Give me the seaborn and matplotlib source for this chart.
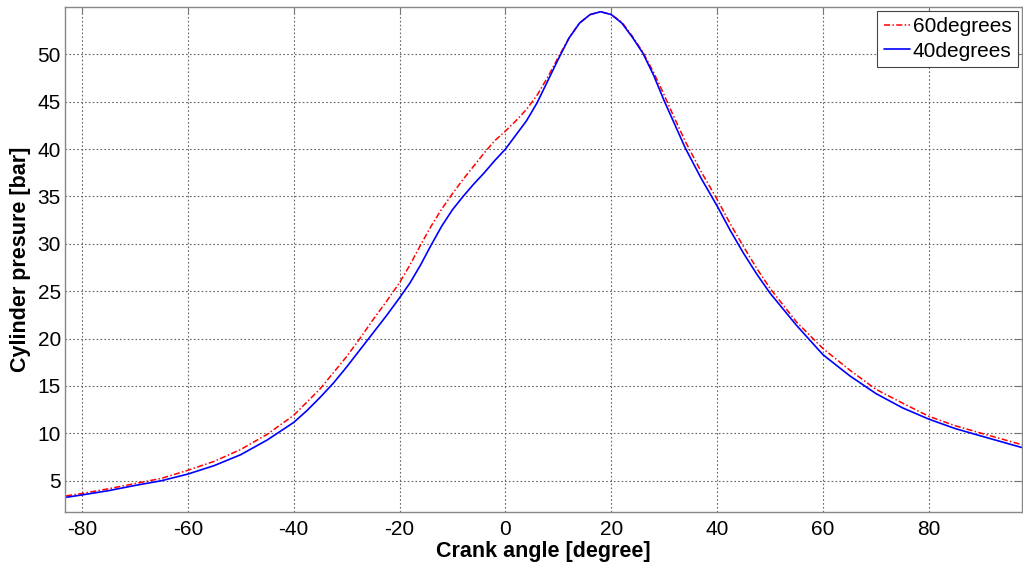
import numpy as np
import pandas as pd
import matplotlib
matplotlib.use("Agg")
import matplotlib.pyplot as plt
import seaborn as sns

crank_angle = [-83, -80, -75, -70, -65, -60, -55, -50, -45, -40, -37.5, -35, -32.5, -30,
               -27.5, -25, -22.5, -20, -18, -16, -14, -12, -10, -8, -6, -4, -2, 0,
               2, 4, 6, 8, 10, 12, 14, 16, 18, 20, 22, 24, 26, 28, 30, 32, 34, 37,
               40, 42.5, 45, 47.5, 50, 55, 60, 65, 70, 75, 80, 85, 90, 97.6]

p_60deg = [3.4, 3.65, 4.15, 4.7, 5.25, 6.1, 7.05, 8.3, 9.9, 11.9, 13.3, 14.7, 16.4, 18.1,
           20.0, 22.0, 23.9, 25.9, 27.8, 29.9, 31.9, 33.7, 35.3, 36.8, 38.2, 39.6, 40.9, 41.9,
           43.0, 44.2, 45.7, 47.6, 49.7, 51.7, 53.3, 54.2, 54.5, 54.2, 53.4, 51.9, 50.2, 48.1,
           45.7, 43.2, 40.8, 37.6, 34.7, 32.1, 29.7, 27.4, 25.3, 21.75, 18.95, 16.7, 14.65,
           13.2, 11.8, 10.8, 10.0, 8.8]

p_40deg = [3.25, 3.5, 3.95, 4.5, 5.0, 5.7, 6.6, 7.75, 9.3, 11.15, 12.4, 13.8, 15.3, 17.0,
           18.8, 20.6, 22.4, 24.3, 25.9, 27.8, 29.9, 31.9, 33.6, 35.0, 36.3, 37.5, 38.8, 40.0,
           41.5, 43.0, 44.9, 47.2, 49.5, 51.7, 53.3, 54.2, 54.5, 54.2, 53.3, 51.8, 50.1, 47.8,
           45.1, 42.6, 40.1, 36.9, 34.0, 31.4, 29.0, 26.8, 24.8, 21.4, 18.3, 16.1, 14.2,
           12.7, 11.5, 10.5, 9.7, 8.5]

series_names = ["60degrees", "40degrees"]
x_ticks = [-80, -60, -40, -20, 0, 20, 40, 60, 80]
y_ticks = [5, 10, 15, 20, 25, 30, 35, 40, 45, 50]

df60 = pd.DataFrame({"angle": crank_angle, "p": p_60deg})
df40 = pd.DataFrame({"angle": crank_angle, "p": p_40deg})

sns.set_style("white")
plt.rcParams["font.family"] = ["Liberation Sans", "DejaVu Sans"]
plt.rcParams["axes.unicode_minus"] = False
plt.rcParams["text.color"] = "black"
plt.rcParams["axes.labelcolor"] = "black"
plt.rcParams["xtick.color"] = "black"
plt.rcParams["ytick.color"] = "black"

fig = plt.figure(figsize=(10.23, 5.62), dpi=100)
ax = fig.add_axes([65 / 1023, 1 - 512 / 562, (1022 - 65) / 1023, (512 - 7) / 562])

sns.lineplot(data=df60, x="angle", y="p", ax=ax, color="#ff0000", lw=1.1,
             linestyle=(0, (4, 1.5, 1, 1.5)), label=series_names[0])
sns.lineplot(data=df40, x="angle", y="p", ax=ax, color="#0000ff", lw=1.2,
             label=series_names[1])

ax.set_xlim(-83.2, 97.6)
ax.set_ylim(1.7, 55.0)
ax.set_xticks(x_ticks)
ax.set_yticks(y_ticks)
ax.grid(True, linestyle=(0, (1.5, 2)), color="#666666", linewidth=0.8)
ax.tick_params(direction="in", length=5, width=0.8, color="#777777",
               labelsize=15, labelcolor="black", top=True, right=True)
ax.tick_params(axis="x", pad=6)
ax.tick_params(axis="y", pad=3)
for s in ax.spines.values():
    s.set_color("#888888")
    s.set_linewidth(1.0)

ax.set_xlabel("Crank angle [degree]", fontsize=15.5, fontweight="bold", labelpad=1)
ax.set_ylabel("Cylinder presure [bar]", fontsize=15.5, fontweight="bold", labelpad=5)

leg = ax.legend(loc="upper right", fontsize=15, frameon=True, fancybox=False,
                borderaxespad=0.2, handlelength=1.25, handletextpad=0.15,
                borderpad=0.3, labelspacing=0.25)
leg.get_frame().set_edgecolor("#444444")
leg.get_frame().set_linewidth(0.8)
leg.get_frame().set_alpha(1)

fig.savefig("out.png", dpi=100)
